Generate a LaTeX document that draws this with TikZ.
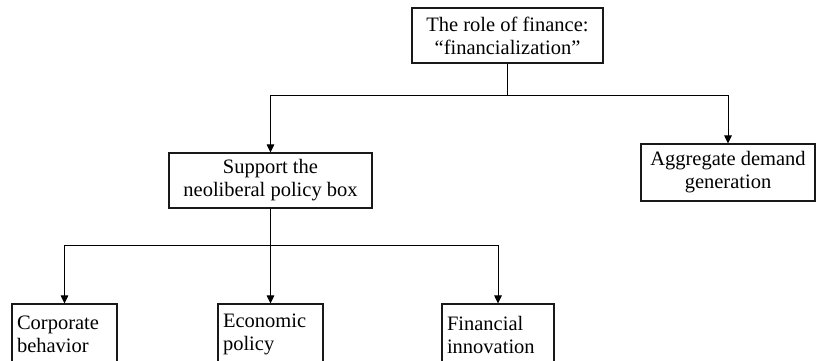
\documentclass[tikz,border=0pt]{standalone}
\usepackage{fontspec}
\setmainfont{Liberation Serif}
\usetikzlibrary{arrows.meta}
\begin{document}
\begin{tikzpicture}[x=1pt,y=-1pt,
  box/.style={draw=black!90,line width=1.1pt,fill=white,inner sep=0pt,
    font=\fontsize{20.5}{23}\selectfont,text=black},
  cbox/.style={box,align=center},
  lbox/.style={box,align=left,anchor=center},
  link/.style={line width=1pt,draw=black},
  arr/.style={link,-{Triangle[length=8pt,width=7.5pt]}}]
\useasboundingbox (0,0) rectangle (816,360);
\clip (0,0) rectangle (816,360);
\fill[white] (0,0) rectangle (816,360);
\node[cbox,minimum width=191pt,minimum height=55pt] (top) at (507.5,35.5)
  {The role of finance:\\``financialization''};
\node[cbox,minimum width=203pt,minimum height=55pt] (sup) at (270.5,180.5)
  {Support the\\neoliberal policy box};
\node[cbox,minimum width=174pt,minimum height=57pt] (agg) at (728,172.5)
  {Aggregate demand\\generation};
\node[lbox,text width=95pt,minimum height=61pt,inner xsep=5pt] (corp) at (64.5,334.5)
  {Corporate\\behavior};
\node[lbox,text width=95pt,minimum height=61pt,inner xsep=5pt] (eco) at (270.5,334.5)
  {Economic\\policy};
\node[lbox,text width=102pt,minimum height=61pt,inner xsep=5pt] (fin) at (498,334.5)
  {Financial\\innovation};
\coordinate (j1) at (507.5,95);
\coordinate (j2) at (270.5,245);
\draw[link] (top.south) -- (j1);
\draw[arr] (j1) -| (sup.north);
\draw[arr] (j1) -| (agg.north);
\draw[link] (sup.south) -- (j2);
\draw[arr] (j2) -| (corp.north);
\draw[arr] (j2) -| (fin.north);
\draw[arr] (j2) -- (eco.north);
\end{tikzpicture}
\end{document}
